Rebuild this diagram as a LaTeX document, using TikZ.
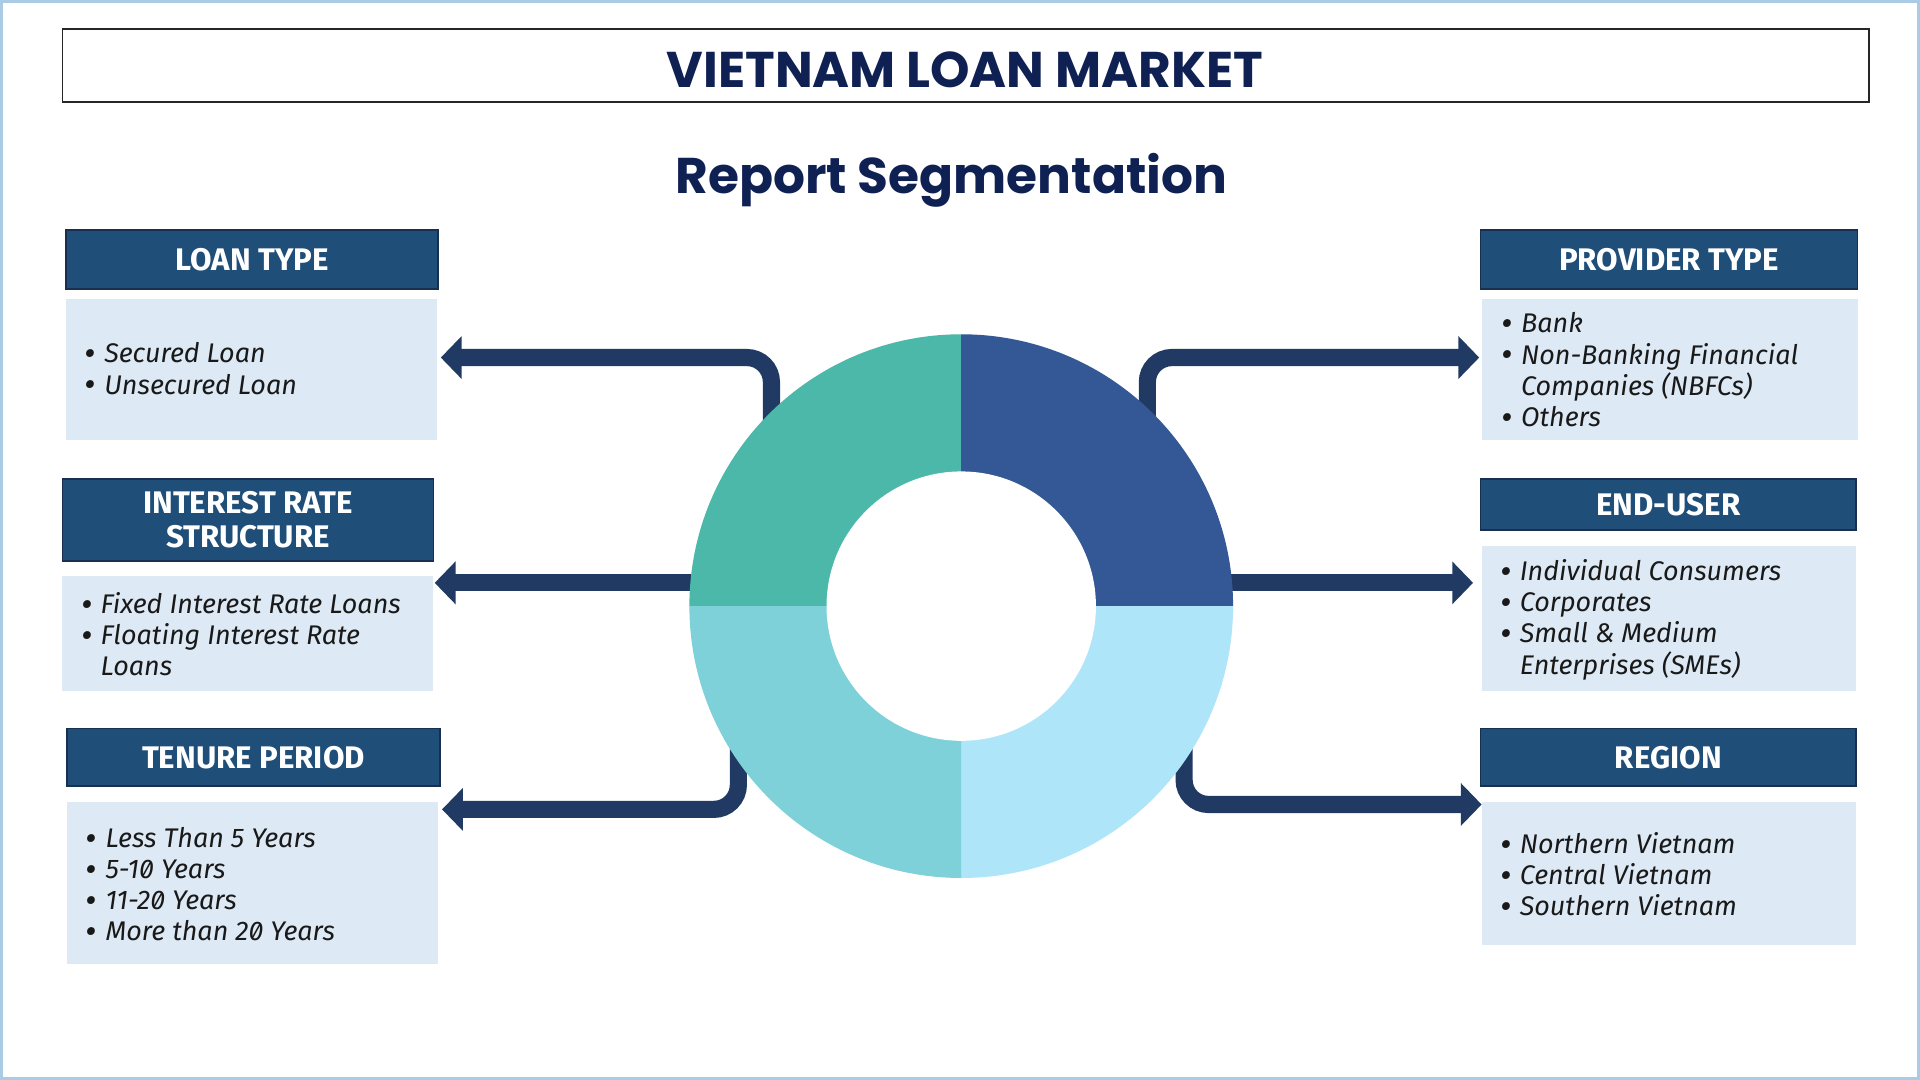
\documentclass[tikz,border=0pt]{standalone}
\usepackage{fontspec}
\setmainfont{Fira Sans}[Numbers=SlashedZero]
\newfontfamily\titlefont{Poppins}
\usetikzlibrary{arrows.meta}
\definecolor{navy}{HTML}{0F2053}
\definecolor{hdrfill}{HTML}{1F4E79}
\definecolor{hdrdraw}{HTML}{17304F}
\definecolor{boxfill}{HTML}{DDE9F5}
\definecolor{arrowc}{HTML}{203A63}
\definecolor{frameblue}{HTML}{A9CBE3}
\definecolor{qtl}{HTML}{4BB8A9}
\definecolor{qtr}{HTML}{335895}
\definecolor{qbr}{HTML}{AEE5F9}
\definecolor{qbl}{HTML}{7ED1D8}
\newcommand\bul{\makebox[16pt][l]{\raisebox{-2.4pt}{\scalebox{1.3}{\textbullet}}}}
\newcommand\nobul{\makebox[16pt][l]{}}
\begin{document}
\begin{tikzpicture}[x=1pt,y=-1pt,
  hdr/.style={draw=hdrdraw, line width=1.5pt, fill=hdrfill, text=white, inner sep=0pt, outer sep=0pt,
    font=\fontsize{25.5}{28}\selectfont\bfseries, align=center},
  cbox/.style={fill=boxfill, inner sep=0pt, outer sep=0pt},
  items/.style={anchor=west, inner sep=0pt, align=left, text=black!90,
    font=\fontsize{22}{25.5}\selectfont\itshape},
  arr/.style={draw=arrowc, line width=14pt, rounded corners=20pt, -{Triangle[length=17pt,width=34pt]}},
  titletext/.style={text=navy, font=\titlefont\bfseries\fontsize{41}{46}\selectfont}
]
\useasboundingbox (0,0) rectangle (1568,882);
\fill[white] (0,0) rectangle (1568,882);
\draw[frameblue, line width=2.5pt] (1.25,1.25) rectangle (1566.75,880.75);

% title
\node[draw=black!85, line width=1.5pt, fill=white, minimum width=1475pt, minimum height=59pt, inner sep=0pt] (title) at (788.5,53.5) {};
\node[titletext] (titletxt) at (788,57) {VIETNAM LOAN MARKET};
\node[titletext] (subtitle) at (777,147) {Report Segmentation};

% header boxes
\node[hdr, minimum width=304pt, minimum height=48pt] (hLT) at (206,212) {LOAN TYPE};
\node[hdr, minimum width=303pt, minimum height=67pt] (hIR) at (202.5,424.5) {INTEREST RATE\\STRUCTURE};
\node[hdr, minimum width=304pt, minimum height=47pt] (hTP) at (207,618.5) {TENURE PERIOD};
\node[hdr, minimum width=308pt, minimum height=48pt] (hPT) at (1363,212) {PROVIDER TYPE};
\node[hdr, minimum width=307pt, minimum height=42pt] (hEU) at (1362.5,412) {END-USER};
\node[hdr, minimum width=307pt, minimum height=47pt] (hRG) at (1362.5,618.5) {REGION};

% content boxes
\node[cbox, minimum width=303pt, minimum height=115pt] (bLT) at (205.5,301.5) {};
\node[cbox, minimum width=303pt, minimum height=94pt] (bIR) at (202.5,517) {};
\node[cbox, minimum width=303pt, minimum height=132pt] (bTP) at (206.5,721) {};
\node[cbox, minimum width=307pt, minimum height=115pt] (bPT) at (1363.5,301.5) {};
\node[cbox, minimum width=306pt, minimum height=118pt] (bEU) at (1363,505) {};
\node[cbox, minimum width=306pt, minimum height=117pt] (bRG) at (1363,713.5) {};

% items
\node[items] (tLT) at (69,302) {\bul Secured Loan\\\bul Unsecured Loan};
\node[items] (tIR) at (66,518) {\bul Fixed Interest Rate Loans\\\bul Floating Interest Rate\\\nobul Loans};
\node[items] (tTP) at (70,723) {\bul Less Than 5 Years\\\bul 5-10 Years\\\bul 11-20 Years\\\bul More than 20 Years};
\node[items] (tPT) at (1226,303) {\bul Bank\\\bul Non-Banking Financial\\\nobul Companies (NBFCs)\\\bul Others};
\node[items] (tEU) at (1225,506) {\bul Individual Consumers\\\bul Corporates\\\bul Small \& Medium\\\nobul Enterprises (SMEs)};
\node[items] (tRG) at (1225,715) {\bul Northern Vietnam\\\bul Central Vietnam\\\bul Southern Vietnam};

% arrow start points (hidden behind the ring)
\coordinate (sLT) at (630,400);
\coordinate (sIR) at (600,476);
\coordinate (sTP) at (603,580);
\coordinate (sPT) at (937,400);
\coordinate (sEU) at (970,476);
\coordinate (sRG) at (967,580);

\draw[arr] (sLT) |- ([xshift=3pt,yshift=9.5pt]bLT.east);
\draw[arr] (sIR) -- ([xshift=1pt,yshift=41pt]bIR.east);
\draw[arr] (sTP) |- ([xshift=3pt,yshift=60pt]bTP.east);
\draw[arr] (sPT) |- ([xshift=-2pt,yshift=9.5pt]bPT.west);
\draw[arr] (sEU) -- ([xshift=-7pt,yshift=29pt]bEU.west);
\draw[arr] (sRG) |- ([xshift=0pt,yshift=56.5pt]bRG.west);

% donut
\fill[qtl] (785,495) -- (563,495) arc[start angle=180, end angle=270, radius=222] -- cycle;
\fill[qtr] (785,495) -- (785,273) arc[start angle=270, end angle=360, radius=222] -- cycle;
\fill[qbr] (785,495) -- (1007,495) arc[start angle=0, end angle=90, radius=222] -- cycle;
\fill[qbl] (785,495) -- (785,717) arc[start angle=90, end angle=180, radius=222] -- cycle;
\fill[white] (785,495) circle[radius=110];
\end{tikzpicture}
\end{document}
